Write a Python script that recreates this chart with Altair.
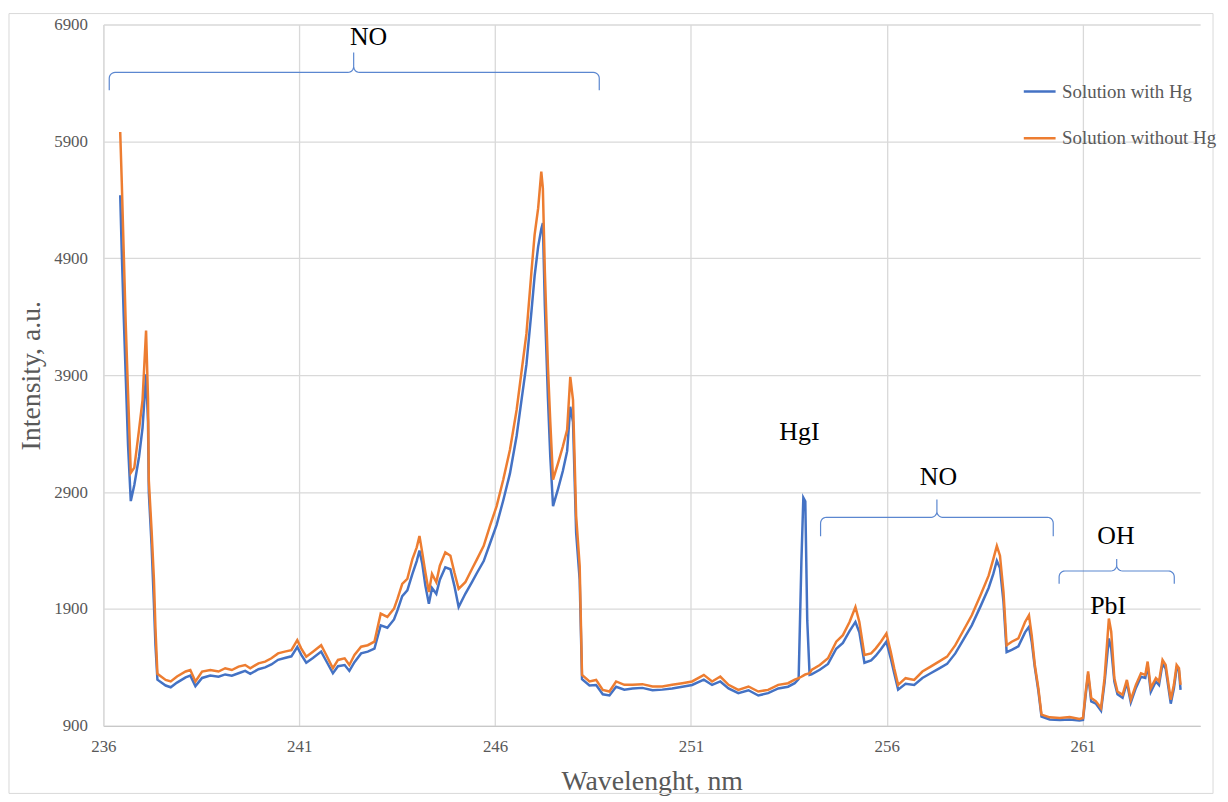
import math
import altair as alt
import pandas as pd

# ---- spectra ----
wavelength = [
    236.43, 236.47, 236.52, 236.57, 236.63, 236.70, 236.79, 236.91, 237.00, 237.09,
    237.14, 237.16, 237.23, 237.29, 237.33, 237.38, 237.59, 237.72, 237.88, 238.10,
    238.22, 238.35, 238.52, 238.73, 238.94, 239.11, 239.28, 239.45, 239.62, 239.75,
    239.96, 240.13, 240.29, 240.46, 240.63, 240.80, 240.95, 241.05, 241.18, 241.35,
    241.56, 241.69, 241.86, 241.99, 242.16, 242.28, 242.41, 242.58, 242.75, 242.92,
    243.08, 243.25, 243.42, 243.51, 243.63, 243.76, 243.89, 244.00, 244.07, 244.14,
    244.22, 244.31, 244.39, 244.50, 244.59, 244.73, 244.86, 244.96, 245.07, 245.24,
    245.41, 245.54, 245.71, 245.87, 246.04, 246.21, 246.38, 246.55, 246.68, 246.80,
    246.93, 247.01, 247.10, 247.18, 247.22, 247.27, 247.35, 247.41, 247.48, 247.61,
    247.73, 247.84, 247.92, 247.99, 248.07, 248.16, 248.22, 248.41, 248.58, 248.75,
    248.92, 249.09, 249.30, 249.51, 249.76, 250.02, 250.27, 250.52, 250.78, 251.03,
    251.33, 251.54, 251.75, 251.96, 252.21, 252.47, 252.72, 252.97, 253.23, 253.48,
    253.65, 253.75, 253.82, 253.87, 253.92, 253.97, 254.03, 254.08, 254.29, 254.50,
    254.71, 254.88, 255.05, 255.20, 255.30, 255.43, 255.60, 255.72, 255.85, 255.99,
    256.10, 256.19, 256.29, 256.48, 256.70, 256.91, 257.12, 257.33, 257.54, 257.75,
    257.96, 258.17, 258.39, 258.60, 258.72, 258.81, 258.89, 258.98, 259.06, 259.19,
    259.36, 259.53, 259.63, 259.70, 259.78, 259.87, 259.95, 260.16, 260.42, 260.67,
    260.92, 261.01, 261.08, 261.14, 261.22, 261.34, 261.47, 261.56, 261.67, 261.73,
    261.81, 261.89, 262.02, 262.13, 262.23, 262.36, 262.49, 262.60, 262.66, 262.74,
    262.87, 262.95, 263.04, 263.12, 263.25, 263.33, 263.40, 263.46, 263.50,
]

without_hg = [
    5980, 5550, 4950, 4350, 3750, 3064, 3109, 3432, 3687, 4281,
    3700, 3000, 2580, 2157, 1733, 1345, 1293, 1280, 1322, 1365,
    1378, 1280, 1365, 1378, 1365, 1393, 1378, 1407, 1421, 1393,
    1435, 1450, 1478, 1520, 1535, 1548, 1633, 1563, 1492, 1535,
    1590, 1506, 1393, 1464, 1478, 1421, 1506, 1577, 1590, 1620,
    1860, 1832, 1903, 1988, 2115, 2157, 2327, 2427, 2525, 2384,
    2214, 2044, 2200, 2129, 2270, 2384, 2356, 2214, 2072, 2129,
    2242, 2327, 2440, 2610, 2780, 3007, 3262, 3602, 3942, 4253,
    4791, 5103, 5329, 5641, 5500, 4800, 3970, 3500, 3007, 3149,
    3290, 3432, 3885, 3687, 2695, 2270, 1336, 1280, 1293, 1208,
    1194, 1280, 1251, 1251, 1257, 1237, 1237, 1251, 1265, 1280,
    1336, 1280, 1322, 1251, 1208, 1237, 1194, 1208, 1251, 1265,
    1295, 1308, 1320, 1330, 1340, 1345, 1350, 1378, 1421, 1478,
    1620, 1676, 1789, 1917, 1789, 1506, 1520, 1563, 1620, 1690,
    1535, 1393, 1251, 1308, 1293, 1365, 1407, 1450, 1492, 1590,
    1718, 1846, 2016, 2185, 2327, 2440, 2356, 2044, 1590, 1620,
    1648, 1789, 1846, 1676, 1421, 1223, 996, 973, 968, 975,
    960, 968, 1194, 1365, 1138, 1110, 1053, 1308, 1818, 1705,
    1308, 1194, 1166, 1293, 1124, 1251, 1350, 1336, 1450, 1223,
    1308, 1280, 1464, 1421, 1124, 1251, 1421, 1393, 1251,
]

with_hg = [
    5440, 4950, 4400, 3900, 3300, 2823, 2960, 3200, 3450, 3908,
    3500, 2900, 2450, 1950, 1590, 1295, 1245, 1230, 1270, 1315,
    1330, 1240, 1310, 1330, 1320, 1340, 1330, 1350, 1370, 1345,
    1385, 1400, 1425, 1465, 1480, 1495, 1575, 1510, 1440, 1480,
    1535, 1455, 1350, 1410, 1420, 1370, 1445, 1520, 1535, 1560,
    1760, 1740, 1810, 1890, 2010, 2060, 2200, 2310, 2400, 2290,
    2100, 1945, 2080, 2030, 2150, 2257, 2240, 2100, 1917, 2030,
    2130, 2210, 2310, 2460, 2620, 2830, 3060, 3380, 3700, 3990,
    4450, 4750, 5000, 5150, 5202, 4500, 3700, 3200, 2780, 2930,
    3080, 3250, 3630, 3500, 2550, 2150, 1300, 1245, 1250, 1170,
    1160, 1235, 1210, 1220, 1225, 1205, 1210, 1220, 1235, 1250,
    1295, 1250, 1280, 1220, 1180, 1205, 1160, 1180, 1220, 1235,
    1265, 1300, 2300, 2852, 2820, 1800, 1336, 1340, 1380, 1430,
    1560, 1610, 1710, 1789, 1700, 1440, 1460, 1500, 1555, 1620,
    1480, 1350, 1210, 1260, 1250, 1310, 1350, 1390, 1430, 1520,
    1640, 1760, 1920, 2080, 2200, 2313, 2250, 1960, 1530, 1550,
    1580, 1700, 1747, 1620, 1400, 1200, 980, 955, 950, 955,
    945, 950, 1170, 1340, 1110, 1090, 1030, 1270, 1648, 1560,
    1280, 1170, 1140, 1270, 1100, 1225, 1320, 1310, 1420, 1190,
    1280, 1250, 1430, 1390, 1090, 1220, 1390, 1370, 1208,
]

series_names = ["Solution with Hg", "Solution without Hg"]
series_colors = ["#4472C4", "#ED7D31"]

x_ticks = [236, 241, 246, 251, 256, 261]
y_ticks = [900, 1900, 2900, 3900, 4900, 5900, 6900]

# ---- annotations ----
ann_text = ["NO", "HgI", "NO", "OH", "PbI"]
ann_wl = [242.77, 253.77, 257.32, 261.85, 261.65]
ann_val = [6794, 3415, 3030, 2525, 1925]

brace_start = [236.15, 254.31, 260.40]
brace_end = [248.66, 260.25, 263.34]
brace_mid = [242.39, 257.28, 261.87]
brace_bar = [6490, 2684, 2225]
brace_tip = [6660, 2837, 2327]
brace_foot = [6337, 2523, 2115]

FONT = "Liberation Serif"
GREY = "#595959"

rows = []
for w, a, b in zip(wavelength, with_hg, without_hg):
    rows.append({"wl": w, "val": a, "series": series_names[0]})
    rows.append({"wl": w, "val": b, "series": series_names[1]})
df = pd.DataFrame(rows)

# brace outlines (annotation geometry) with rounded corners
RX, RY = 0.15, 50.0


def arc(cx, cy, a0, a1, n=6):
    return [(cx + RX * math.cos(a0 + (a1 - a0) * i / n),
             cy + RY * math.sin(a0 + (a1 - a0) * i / n)) for i in range(n + 1)]


brace_rows = []
for k in range(len(brace_start)):
    x0, x1, xm = brace_start[k], brace_end[k], brace_mid[k]
    yb, yt, yf = brace_bar[k], brace_tip[k], brace_foot[k]
    pts = [(x0, yf)]
    pts += arc(x0 + RX, yb - RY, math.pi, math.pi / 2)
    pts += arc(xm - RX, yb + RY, -math.pi / 2, 0)
    pts += [(xm, yt)]
    pts += arc(xm + RX, yb + RY, math.pi, 1.5 * math.pi)
    pts += arc(x1 - RX, yb - RY, math.pi / 2, 0)
    pts += [(x1, yf)]
    for i, (px, py) in enumerate(pts):
        brace_rows.append({"wl": px, "val": py, "brace": k, "idx": i})
brace_df = pd.DataFrame(brace_rows)

ann_df = pd.DataFrame({"wl": ann_wl, "val": ann_val, "label": ann_text})

x_enc = alt.X(
    "wl:Q",
    scale=alt.Scale(domain=[236, 264], nice=False, zero=False),
    axis=alt.Axis(
        values=x_ticks, format="d", title="Wavelenght, nm", grid=True,
        gridColor="#d9d9d9", gridWidth=1.3, domainColor="#c8c8c8", domainWidth=1.3,
        ticks=False, tickSize=0, labelFont=FONT, labelFontSize=17, labelColor=GREY,
        labelPadding=13, labelFlush=False, titleFont=FONT, titleFontSize=28,
        titleColor=GREY, titleFontWeight="normal", titleBaseline="alphabetic",
        titleY=64,
    ),
)
y_enc = alt.Y(
    "val:Q",
    scale=alt.Scale(domain=[900, 6900], nice=False, zero=False),
    axis=alt.Axis(
        values=y_ticks, format="d", title="Intensity, a.u.", grid=True,
        gridColor="#d9d9d9", gridWidth=1.3, domainColor="#d9d9d9", domainWidth=1.3,
        ticks=False, tickSize=0, labelFont=FONT, labelFontSize=17, labelColor=GREY,
        labelPadding=16, labelFlush=False, titleFont=FONT, titleFontSize=28,
        titleColor=GREY, titleFontWeight="normal", titleBaseline="alphabetic",
        titleX=-64,
    ),
)

lines = alt.Chart(df).mark_line(strokeWidth=2.5).encode(
    x=x_enc,
    y=y_enc,
    color=alt.Color(
        "series:N",
        scale=alt.Scale(domain=series_names, range=series_colors),
        sort=series_names,
        legend=alt.Legend(
            title=None, orient="none", legendX=925, legendY=50,
            symbolType="stroke", symbolSize=1024, symbolStrokeWidth=2.5,
            labelFont=FONT, labelFontSize=19, labelColor=GREY, labelLimit=400,
            labelOffset=5, rowPadding=19,
        ),
    ),
)

braces = alt.Chart(brace_df).mark_line(strokeWidth=1.2, color="#5b87d0").encode(
    x=x_enc, y=y_enc, detail="brace:N", order="idx:Q"
)

labels = alt.Chart(ann_df).mark_text(
    font=FONT, fontSize=26, color="#000000", baseline="middle", align="center"
).encode(x=x_enc, y=y_enc, text="label:N")

frame = alt.Chart(alt.Data(values=[{}])).mark_rect(
    fill="transparent", stroke="#d9d9d9", strokeWidth=1
).encode(
    x=alt.value(-95), x2=alt.value(1117), y=alt.value(-11), y2=alt.value(774)
)

chart = alt.layer(frame, lines, braces, labels).properties(
    width=1104, height=706,
    autosize=alt.AutoSizeParams(type="none"),
    padding={"left": 96, "top": 14, "right": 20, "bottom": 70},
).configure_view(strokeWidth=0)

chart.save("out.html", embed_options={"renderer": "svg", "actions": False})
